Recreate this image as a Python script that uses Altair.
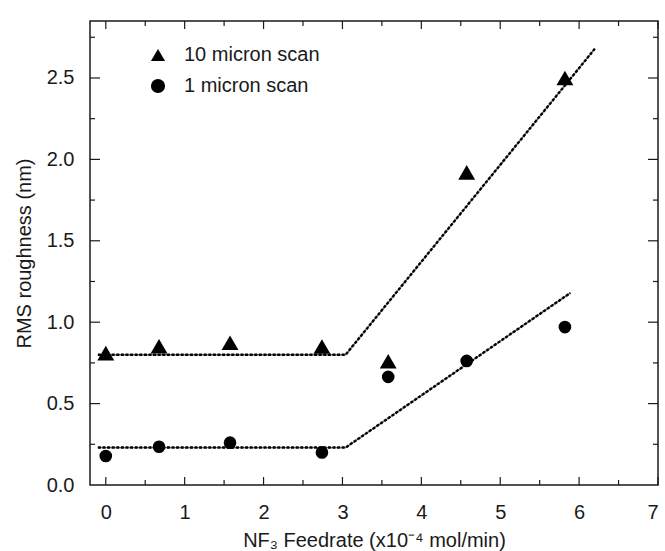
import altair as alt
import pandas as pd

# NF3 feed rate (x10^-4 mol/min) and RMS roughness (nm)
feedrate = [0.0, 0.675, 1.575, 2.74, 3.58, 4.575, 5.82]
rough_10um = [0.81, 0.852, 0.874, 0.851, 0.76, 1.92, 2.50]
rough_1um = [0.178, 0.235, 0.26, 0.20, 0.664, 0.762, 0.97]

series_names = ["10 micron scan", "1 micron scan"]

# piecewise-linear guide lines (flat, then rising)
fit_x_10 = [-0.1, 3.04, 6.2]
fit_y_10 = [0.80, 0.80, 2.68]
fit_x_1 = [-0.1, 3.04, 5.89]
fit_y_1 = [0.23, 0.23, 1.18]

x_major = [0, 1, 2, 3, 4, 5, 6, 7]
x_minor = [0.5, 1.5, 2.5, 3.5, 4.5, 5.5, 6.5]
y_major = [0.5, 1.0, 1.5, 2.0, 2.5]
y_minor = [0.25, 0.75, 1.25, 1.75, 2.25, 2.75]

W, H = 568, 464
FONT = "Liberation Sans"
INK = "#1a1a1a"
FS = 20

points = pd.DataFrame(
    {
        "feed": feedrate * 2,
        "rms": rough_10um + rough_1um,
        "scan": [series_names[0]] * len(feedrate) + [series_names[1]] * len(feedrate),
    }
)
fits = pd.DataFrame(
    {
        "feed": fit_x_10 + fit_x_1,
        "rms": fit_y_10 + fit_y_1,
        "scan": [series_names[0]] * 3 + [series_names[1]] * 3,
        "order": [0, 1, 2, 0, 1, 2],
    }
)

xscale = alt.Scale(domain=[-0.2, 7.0], nice=False, zero=False)
yscale = alt.Scale(domain=[0, 2.85], nice=False, zero=False)

x_axis = alt.Axis(
    values=x_major,
    format="d",
    ticks=False,
    domain=False,
    grid=False,
    labelFontSize=FS,
    labelFont=FONT,
    labelColor=INK,
    labelPadding=17,
    title="NF₃ Feedrate (x10⁻⁴ mol/min)",
    titleFontSize=FS,
    titleFont=FONT,
    titleFontWeight="normal",
    titleColor=INK,
    titlePadding=8,
)
y_axis = alt.Axis(
    values=[0.0] + y_major,
    format=".1f",
    ticks=False,
    domain=False,
    grid=False,
    labelFontSize=FS,
    labelFont=FONT,
    labelColor=INK,
    labelPadding=16,
    title="RMS roughness (nm)",
    titleFontSize=FS,
    titleFont=FONT,
    titleFontWeight="normal",
    titleColor=INK,
    titlePadding=12,
)

fit_base = alt.Chart(fits).encode(
    x=alt.X("feed:Q", scale=xscale, axis=x_axis),
    y=alt.Y("rms:Q", scale=yscale, axis=y_axis),
    detail="scan:N",
    order="order:Q",
)
fit_under = fit_base.mark_line(color="#666666", strokeWidth=1.3)
fit_dash = fit_base.mark_line(color="black", strokeWidth=2.4, strokeDash=[3, 1.6])

markers = (
    alt.Chart(points)
    .mark_point(filled=True, color="black", opacity=1)
    .encode(
        x=alt.X("feed:Q", scale=xscale),
        y=alt.Y("rms:Q", scale=yscale),
        shape=alt.Shape(
            "scan:N",
            scale=alt.Scale(domain=series_names, range=["triangle-up", "circle"]),
            legend=alt.Legend(
                title=None,
                orient="none",
                legendX=58,
                legendY=24,
                labelFontSize=FS,
                labelFont=FONT,
                labelColor=INK,
                labelOffset=16,
                rowPadding=10,
                symbolFillColor="black",
                symbolStrokeColor="black",
                symbolOpacity=1,
                symbolSize=200,
                padding=0,
            ),
        ),
        size=alt.Size(
            "scan:N",
            scale=alt.Scale(domain=series_names, range=[285, 160]),
            legend=None,
        ),
    )
)

# inward tick marks on all four sides
xt = pd.DataFrame({"v": x_major + x_minor, "len": [8] * len(x_major) + [5] * len(x_minor)})
yt = pd.DataFrame({"v": y_major + y_minor, "len": [10] * len(y_major) + [5] * len(y_minor)})

def xticks(length, top):
    d = xt[xt["len"] == length]
    y0 = 0 if top else H
    y1 = length if top else H - length
    return alt.Chart(d).mark_rule(color=INK, strokeWidth=1.2).encode(
        x=alt.X("v:Q", scale=xscale), y=alt.value(y0), y2=alt.value(y1)
    )

def yticks(length, right):
    d = yt[yt["len"] == length]
    x0 = W if right else 0
    x1 = W - length if right else length
    return alt.Chart(d).mark_rule(color=INK, strokeWidth=1.2).encode(
        y=alt.Y("v:Q", scale=yscale), x=alt.value(x0), x2=alt.value(x1)
    )

tick_layers = [xticks(8, False), xticks(5, False), xticks(8, True), xticks(5, True),
               yticks(10, False), yticks(5, False), yticks(10, True), yticks(5, True)]

chart = (
    alt.layer(fit_under, fit_dash, markers, *tick_layers)
    .resolve_scale(size="independent")
    .properties(
        width=W,
        height=H,
        autosize=alt.AutoSizeParams(type="none"),
        padding={"left": 90, "top": 21, "right": 7, "bottom": 66},
        background="white",
    )
    .configure_view(stroke=INK, strokeWidth=1.5)
)

chart.save("out.html", embed_options={"renderer": "svg", "actions": False})
